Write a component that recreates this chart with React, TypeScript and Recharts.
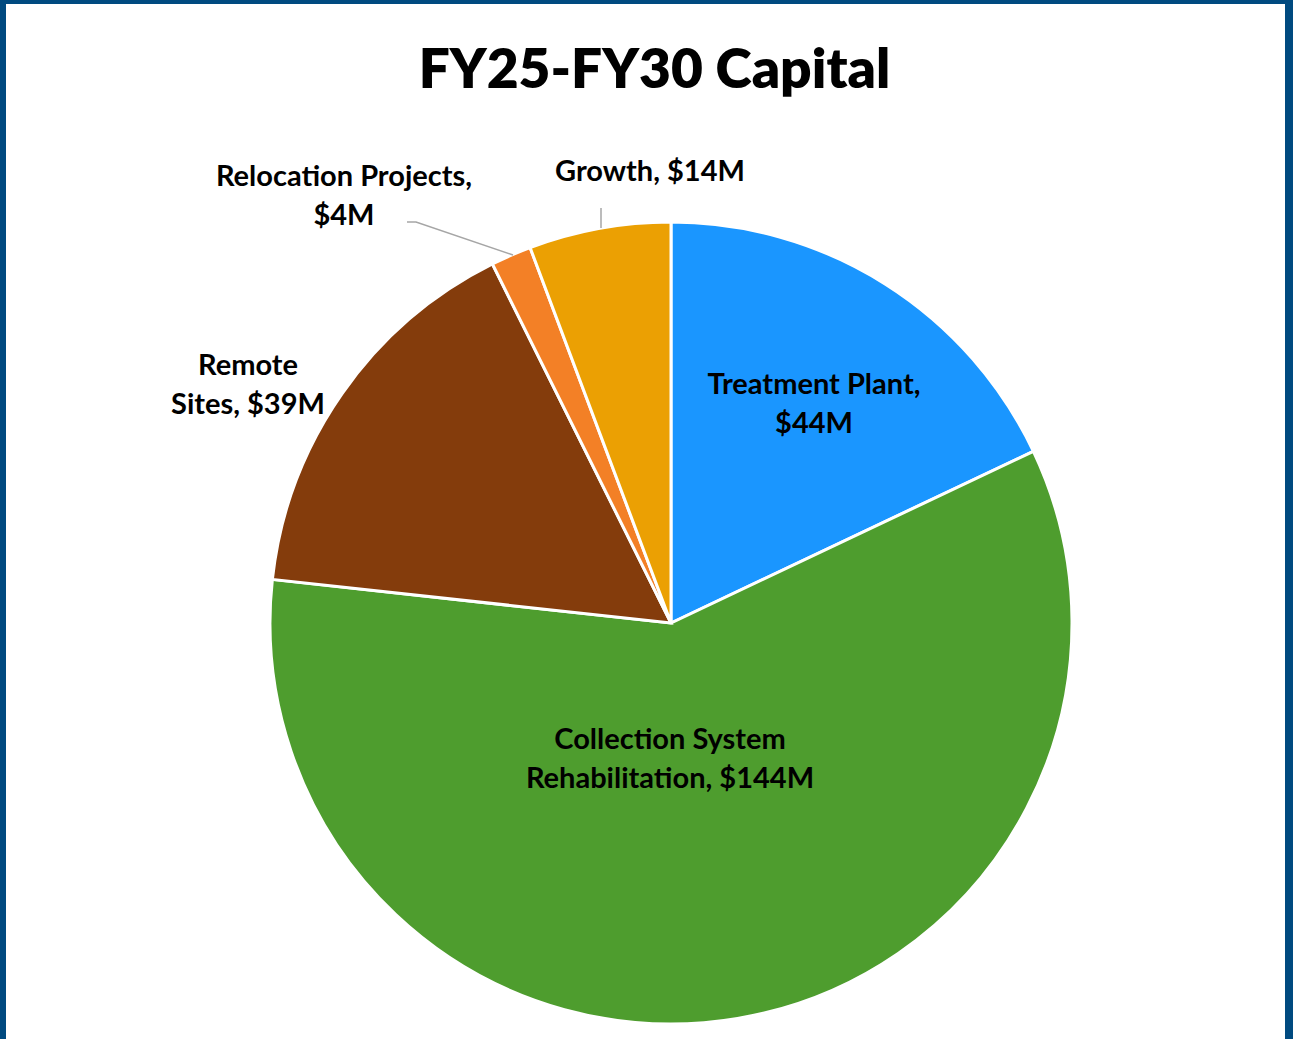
import React from 'react';
import { PieChart, Pie, Cell } from 'recharts';

const categories = ['Treatment Plant', 'Collection System Rehabilitation', 'Remote Sites', 'Relocation Projects', 'Growth'];
const values = [44, 144, 39, 4, 14];
const valueLabels = ['$44M', '$144M', '$39M', '$4M', '$14M'];
const colors = ['#1A96FF', '#4E9D2E', '#843C0C', '#F38026', '#EBA003'];
const title = 'FY25-FY30 Capital';

// label layout: lines of text and offsets from pie center
const labelLines = [
  ['Treatment Plant,', '$44M'],
  ['Collection System', 'Rehabilitation, $144M'],
  ['Remote', 'Sites, $39M'],
  ['Relocation Projects,', '$4M'],
  ['Growth, $14M'],
];
const labelOffsets = [
  [143, -229],
  [-1, 126],
  [-423, -248],
  [-327, -437],
  [-21, -442],
];
const leaders: (number[][] | null)[] = [
  null,
  null,
  null,
  [[-264, -401], [-255, -401], [-158, -368]],
  [[-70, -415], [-70, -395]],
];

const data = categories.map((c, i) => ({ name: c, value: values[i], label: valueLabels[i] }));

const FONT = 'Lato, "Open Sans", sans-serif';

const renderLabel = (props: any) => {
  const { cx, cy, index } = props;
  const [ox, oy] = labelOffsets[index];
  const lines = labelLines[index];
  const lead = leaders[index];
  return (
    <g key={`lbl-${index}`}>
      {lead && (
        <polyline
          points={lead.map((p) => `${cx + p[0]},${cy + p[1]}`).join(' ')}
          fill="none"
          stroke="#A6A6A6"
          strokeWidth={1.5}
        />
      )}
      <text
        x={cx + ox}
        y={cy + oy}
        textAnchor="middle"
        fontFamily={FONT}
        fontWeight={700}
        fontSize={29}
        fill="#000"
      >
        {lines.map((l, j) => (
          <tspan key={j} x={cx + ox} dy={j === 0 ? 0 : 39}>
            {l}
          </tspan>
        ))}
      </text>
    </g>
  );
};

export default function App() {
  return (
    <div style={{ position: 'absolute', left: 0, top: 0, width: 1293, height: 1039, background: '#004A80' }}>
      <div style={{ position: 'absolute', left: 6, top: 4, width: 1279, height: 1035, background: '#FFFFFF' }}>
        <div
          style={{
            position: 'absolute',
            left: 9,
            top: 28,
            width: 1279,
            textAlign: 'center',
            fontFamily: FONT,
            fontWeight: 800,
            fontSize: 55,
            lineHeight: '70px',
            color: '#000',
          }}
        >
          {title}
        </div>
        <div style={{ position: 'absolute', left: 0, top: 0 }}>
          <PieChart width={1279} height={1035} margin={{ top: 0, right: 0, bottom: 0, left: 0 }}>
            <Pie
              data={data}
              dataKey="value"
              nameKey="name"
              cx={665}
              cy={619}
              outerRadius={401}
              startAngle={90}
              endAngle={-270}
              stroke="#FFFFFF"
              strokeWidth={3}
              isAnimationActive={false}
              label={renderLabel}
              labelLine={false}
            >
              {data.map((d, i) => (
                <Cell key={d.name} fill={colors[i]} />
              ))}
            </Pie>
          </PieChart>
        </div>
      </div>
    </div>
  );
}
